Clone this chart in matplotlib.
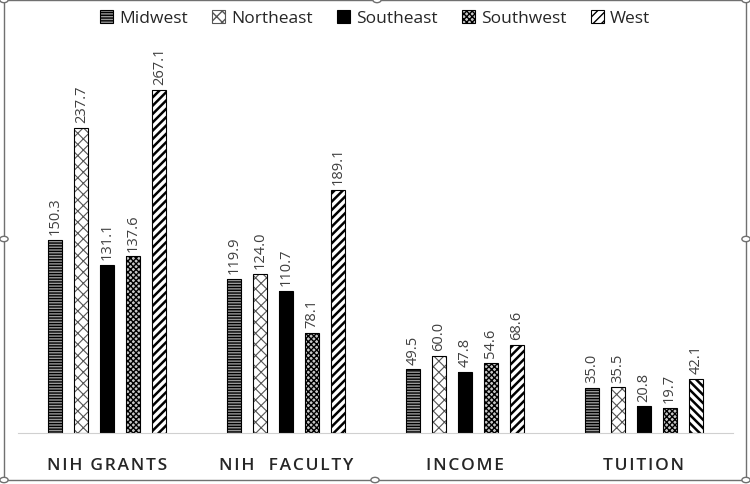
import numpy as np
import matplotlib.pyplot as plt
from matplotlib.patches import Rectangle, Circle

categories = ["NIH GRANTS", "NIH  FACULTY", "INCOME", "TUITION"]
regions = ["Midwest", "Northeast", "Southeast", "Southwest", "West"]
midwest = [150.3, 119.9, 49.5, 35.0]
northeast = [237.7, 124.0, 60.0, 35.5]
southeast = [131.1, 110.7, 47.8, 20.8]
southwest = [137.6, 78.1, 54.6, 19.7]
west = [267.1, 189.1, 68.6, 42.1]

series = [midwest, northeast, southeast, southwest, west]
colors = ["#9a9a9a", "white", "black", "#c8c8c8", "white"]
hatches = ["------", "xxx", None, "xxxxxx", "////"]
hatch_colors = ["black", "#555555", "black", "black", "black"]
hatch_widths = [1.0, 0.8, 1.0, 1.0, 1.8]

plt.rcParams["font.family"] = ["Open Sans", "DejaVu Sans"]

fig = plt.figure(figsize=(7.5, 4.85), dpi=100)
ax = fig.add_axes([18 / 750, 51 / 485, 715 / 750, 374 / 485])

x = np.arange(len(categories))
w = 0.078
step = 0.1455
for i, vals in enumerate(series):
    for j, v in enumerate(vals):
        h = hatches[i]
        if i == 4 and j == 3:
            h = "\\\\\\\\"
        xc = x[j] + (i - 2) * step
        with plt.rc_context({"hatch.linewidth": hatch_widths[i]}):
            ax.bar(xc, v, width=w, color=colors[i], edgecolor=hatch_colors[i],
                   hatch=h, linewidth=0)
        ax.bar(xc, v, width=w, fill=False, edgecolor="black", linewidth=0.8)
        ax.text(xc, v + 4.5, "%.1f" % v, rotation=90, ha="center",
                va="bottom", fontsize=10.5, color="#404040")

# legend proxies
for i in range(5):
    with plt.rc_context({"hatch.linewidth": hatch_widths[i]}):
        ax.bar(0, 0, width=0, color=colors[i], edgecolor=hatch_colors[i], hatch=hatches[i],
               linewidth=0.8, label=regions[i])

ax.set_xlim(-0.5, 3.5)
ax.set_ylim(0, 291.3)
ax.set_yticks([])
ax.set_xticks(x)
spaced = ["\u200a".join(c) for c in categories]
ax.set_xticklabels(spaced, fontsize=12.5, color="#262626", fontweight="semibold")
ax.tick_params(axis="x", length=0, pad=17)
for s in ["top", "left", "right"]:
    ax.spines[s].set_visible(False)
ax.spines["bottom"].set_color("#d0d0d0")

handles, labels = ax.get_legend_handles_labels()
leg = fig.legend(handles, labels, loc="center", bbox_to_anchor=(0.5, 1 - 19 / 485), ncol=5,
                 frameon=False, fontsize=12.5, handlelength=0.75, handleheight=0.75,
                 handletextpad=0.35, columnspacing=1.4)
for t in leg.get_texts():
    t.set_color("#262626")

# chart frame with selection handles
fig.patches.append(Rectangle((4 / 750, 4 / 485), 742 / 750, 480 / 485, transform=fig.transFigure,
                             fill=False, edgecolor="#707070", linewidth=1))
for px, py in [(4, 1), (377, 1), (746, 1), (4, 240), (746, 240), (4, 481), (375, 481), (746, 481)]:
    fig.patches.append(Circle((px / 750, 1 - py / 485), 0.0055, transform=fig.transFigure,
                              facecolor="white", edgecolor="#707070", linewidth=1))

fig.savefig("out.png")
